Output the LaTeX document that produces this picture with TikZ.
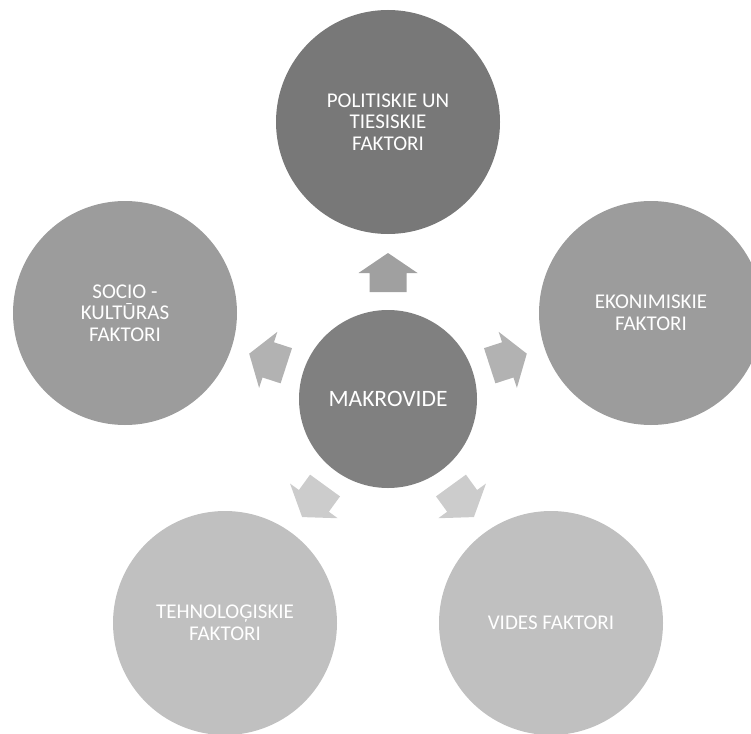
\documentclass[tikz,border=0pt]{standalone}
\usepackage{fontspec}
\setmainfont{Carlito}
\usetikzlibrary{calc}
\definecolor{ctop}{RGB}{120,120,120}
\definecolor{ccen}{RGB}{128,128,128}
\definecolor{cside}{RGB}{156,156,156}
\definecolor{cbot}{RGB}{192,192,192}
\definecolor{atop}{RGB}{160,160,160}
\definecolor{aside}{RGB}{178,178,178}
\definecolor{abot}{RGB}{204,204,204}
\begin{document}
\begin{tikzpicture}[x=1pt,y=-1pt,
  outer/.style={circle, inner sep=0pt, minimum size=224pt, text=white, align=center,
    font=\fontsize{21}{21.7}\selectfont},
  centre/.style={circle, inner sep=0pt, minimum size=178pt, text=white, align=center,
    font=\fontsize{23.5}{25}\selectfont, fill=ccen},
  blockarr/.pic={\path[pic actions] (0,-18.5) -- (19,-18.5) -- (19,-29.5) -- (39,0)
     -- (19,29.5) -- (19,18.5) -- (0,18.5) -- cycle;}]
\useasboundingbox (0,0) rectangle (751,733);
\clip (0,0) rectangle (751,733);
\node[outer, fill=ctop] (t) at (388,122) {POLITISKIE UN\\TIESISKIE\\FAKTORI};
\node[outer, fill=cside] (l) at (125,313) {SOCIO -\\KULTŪRAS\\FAKTORI};
\node[outer, fill=cside] (r) at (651,313) {EKONIMISKIE\\FAKTORI};
\node[outer, fill=cbot] (bl) at (225,623) {TEHNOLOĢISKIE\\FAKTORI};
\node[outer, fill=cbot] (br) at (551,623) {VIDES FAKTORI};
\node[centre] (c) at (388,399) {MAKROVIDE};
\path ($(c)!107pt!(t)$) pic[rotate=90, fill=atop] {blockarr};
\path ($(c)!107pt!(l)$) pic[rotate=162, fill=aside] {blockarr};
\path ($(c)!107pt!(r)$) pic[rotate=18, fill=aside] {blockarr};
\path ($(c)!107pt!(bl)$) pic[rotate=234, fill=abot] {blockarr};
\path ($(c)!107pt!(br)$) pic[rotate=306, fill=abot] {blockarr};
\end{tikzpicture}
\end{document}
